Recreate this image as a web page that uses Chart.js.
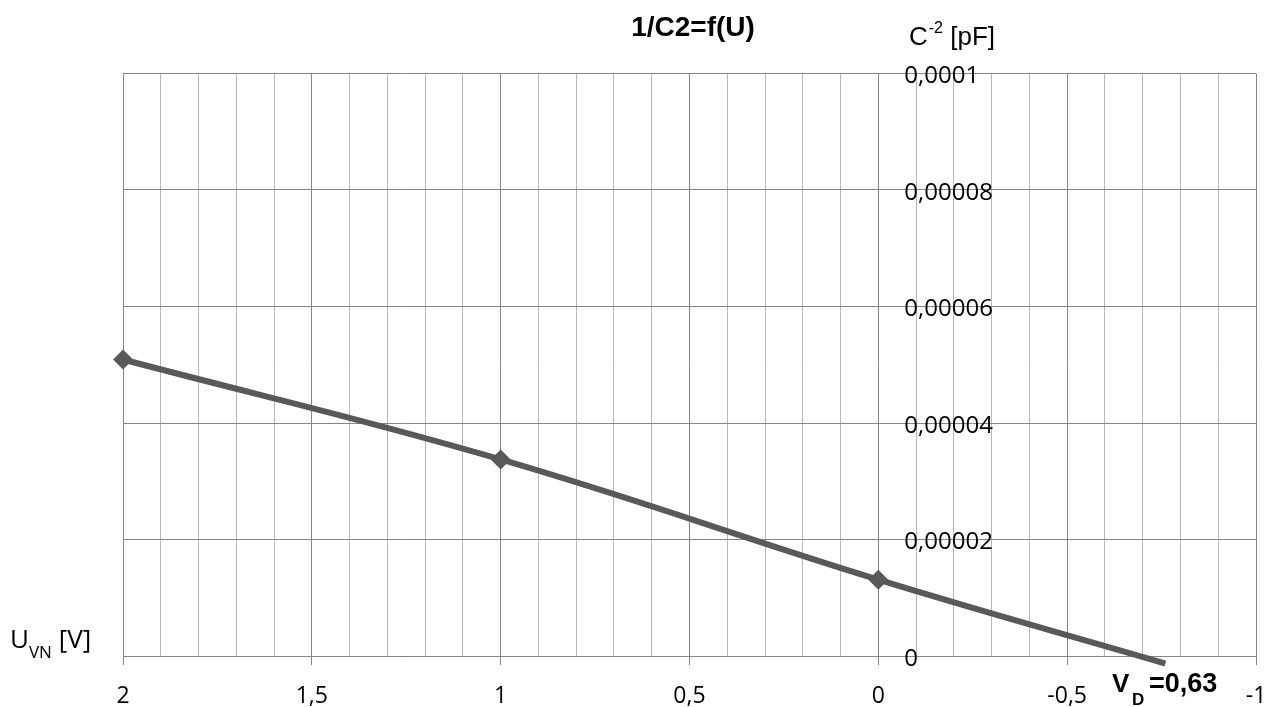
<!DOCTYPE html>
<html>
<head>
<meta charset="utf-8">
<script src="https://cdn.jsdelivr.net/npm/chart.js@4.4.1/dist/chart.umd.min.js"></script>
<style>
	html, body { margin: 0; padding: 0; background: #fff; }
	#wrap { width: 1280px; height: 707px; position: relative; }
</style>
</head>
<body>
<div id="wrap"><canvas id="myChart"></canvas></div>
<script>
// measured values (U in V, 1/C^2)
const uValues = [2, 1, 0, -0.76];
const invC2Values = [0.0000509, 0.00003375, 0.0000131, -0.0000013];
const markerSizes = [10, 10, 10, 0];

const xMajorTicks = [2, 1.5, 1, 0.5, 0, -0.5, -1];
const yTicks = [0, 0.00002, 0.00004, 0.00006, 0.00008, 0.0001];
const yTickLabels = ['0', '0,00002', '0,00004', '0,00006', '0,00008', '0,0001'];

const lineColor = '#595959';
const majorGrid = '#868686';
const minorGrid = '#b8b8b8';

function isMajor(v) {
	return xMajorTicks.some(t => Math.abs(t - v) < 1e-6);
}

function fmt(v) {
	return String(Math.round(v * 10) / 10).replace('.', ',');
}

// y labels sit on the right side of the x=0 line, and the free text items
const extraText = {
	id: 'extraText',
	afterDraw(chart) {
		const ctx = chart.ctx;
		const xs = chart.scales.x;
		const ys = chart.scales.y;
		const x0 = xs.getPixelForValue(0);
		ctx.save();
		ctx.fillStyle = '#000';

		ctx.font = '24px "Open Sans"';
		ctx.textAlign = 'left';
		ctx.textBaseline = 'middle';
		yTicks.forEach((v, i) => {
			ctx.fillText(yTickLabels[i], x0 + 26, ys.getPixelForValue(v) + 3);
		});

		ctx.textBaseline = 'alphabetic';
		ctx.textAlign = 'center';
		ctx.font = 'bold 28px "Liberation Sans"';
		ctx.fillText('1/C2=f(U)', 693, 36);

		ctx.textAlign = 'left';
		ctx.font = '26px "Liberation Sans"';
		ctx.fillText('C', 909, 45);
		let w = ctx.measureText('C').width;
		ctx.font = '16px "Liberation Sans"';
		ctx.fillText('-2', 909 + w + 1, 33);
		let w2 = ctx.measureText('-2').width;
		ctx.font = '26px "Liberation Sans"';
		ctx.fillText(' [pF]', 909 + w + w2 + 1, 45);

		ctx.font = '26px "Open Sans"';
		ctx.fillText('U', 10, 648);
		w = ctx.measureText('U').width;
		ctx.font = '17px "Open Sans"';
		ctx.fillText('VN', 10 + w, 658);
		w2 = ctx.measureText('VN').width;
		ctx.font = '26px "Open Sans"';
		ctx.fillText(' [V]', 10 + w + w2, 648);

		ctx.font = 'bold 26px "Liberation Sans"';
		ctx.fillText('V', 1112, 692);
		ctx.font = 'bold 17px "Liberation Sans"';
		ctx.fillText('D', 1132, 705);
		ctx.font = 'bold 27px "Liberation Sans"';
		ctx.fillText('=0,63', 1149, 692);
		ctx.restore();
	}
};

const ctx = document.getElementById('myChart').getContext('2d');
const myChart = new Chart(ctx, {
	type: 'line',
	data: {
		datasets: [{
			data: uValues.map((u, i) => ({ x: u, y: invC2Values[i] })),
			borderColor: lineColor,
			backgroundColor: lineColor,
			borderWidth: 6,
			tension: 0.4,
			pointStyle: 'rectRot',
			pointRadius: markerSizes,
			pointHoverRadius: markerSizes,
			pointBorderWidth: 0,
			clip: false
		}]
	},
	options: {
		responsive: true,
		maintainAspectRatio: false,
		animation: false,
		events: [],
		layout: { padding: { left: 123, right: 24, top: 73.5, bottom: 0 } },
		plugins: {
			legend: { display: false },
			tooltip: { enabled: false }
		},
		scales: {
			x: {
				type: 'linear',
				reverse: true,
				min: -1,
				max: 2,
				afterFit(scale) {
					scale.height = 51;
					scale.paddingLeft = 0;
					scale.paddingRight = 0;
				},
				ticks: {
					stepSize: 0.1,
					autoSkip: false,
					maxRotation: 0,
					padding: 18,
					color: '#000',
					font: { family: 'Open Sans', size: 23 },
					callback: v => isMajor(v) ? fmt(v) : ''
				},
				grid: {
					color: c => isMajor(c.tick.value) ? majorGrid : minorGrid,
					tickColor: c => isMajor(c.tick.value) ? majorGrid : 'rgba(0,0,0,0)',
					tickLength: 9,
					lineWidth: 1
				},
				border: { color: majorGrid, width: 1 }
			},
			y: {
				type: 'linear',
				min: 0,
				max: 0.0001,
				afterFit(scale) {
					scale.width = 0;
					scale.paddingTop = 0;
					scale.paddingBottom = 0;
				},
				ticks: { stepSize: 0.00002, display: false },
				grid: { color: majorGrid, drawTicks: false, lineWidth: 1 },
				border: { display: false }
			}
		}
	},
	plugins: [extraText]
});
</script>
</body>
</html>
